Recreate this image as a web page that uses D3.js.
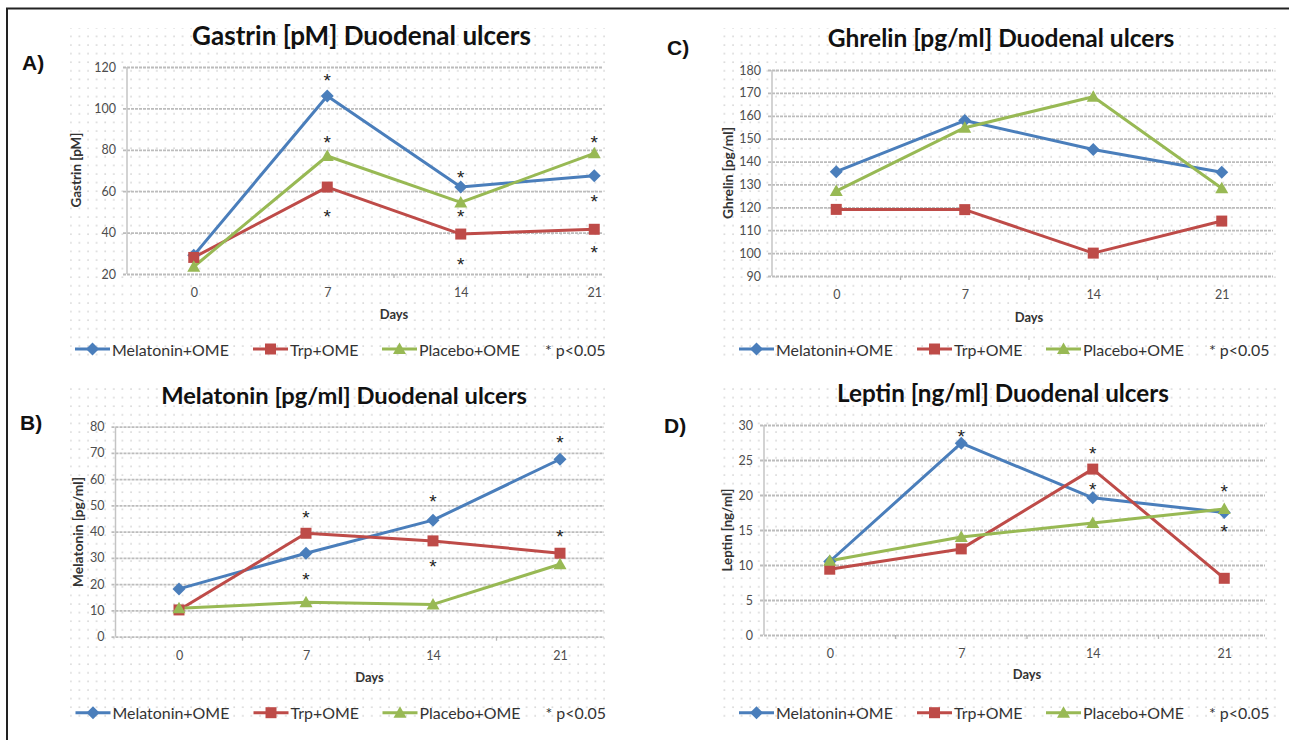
<!DOCTYPE html>
<html>
<head>
<meta charset="utf-8">
<script src="https://cdn.jsdelivr.net/npm/d3@7"></script>
<style>
  body { margin: 0; background: #fff; }
  svg { font-family: Lato, "Open Sans", sans-serif; }
</style>
</head>
<body>
<script>
// data
const days = ["0", "7", "14", "21"];
const seriesNames = ["Melatonin+OME", "Trp+OME", "Placebo+OME"];

const gastrinMel = [29, 106, 62, 67.5];
const gastrinTrp = [28, 62, 39.3, 41.6];
const gastrinPla = [23.5, 77, 54.6, 78.3];
const gastrinTicks = [20, 40, 60, 80, 100, 120];
const gastrinStars = [[1, 115.7], [1, 85.7], [1, 50], [2, 68.8], [2, 50], [2, 26.8], [3, 85.7], [3, 57.2], [3, 32.6]];

const ghrelinMel = [135.6, 157.9, 145.3, 135.3];
const ghrelinTrp = [119.1, 119, 100, 114];
const ghrelinPla = [127.1, 154.8, 168.3, 128.3];
const ghrelinTicks = [90, 100, 110, 120, 130, 140, 150, 160, 170, 180];
const ghrelinStars = [];

const melatoninMel = [18.2, 31.8, 44.4, 67.6];
const melatoninTrp = [10.2, 39.4, 36.5, 31.8];
const melatoninPla = [10.8, 13.1, 12.3, 27.6];
const melatoninTicks = [0, 10, 20, 30, 40, 50, 60, 70, 80];
const melatoninStars = [[1, 47], [1, 23.5], [2, 53.1], [2, 28.6], [3, 75.6], [3, 39.8]];

const leptinMel = [10.5, 27.4, 19.6, 17.5];
const leptinTrp = [9.4, 12.3, 23.7, 8.1];
const leptinPla = [10.6, 14, 16, 18];
const leptinTicks = [0, 5, 10, 15, 20, 25, 30];
const leptinStars = [[1, 29], [2, 26.6], [2, 21.4], [3, 21.2], [3, 15.4]];

const colors = ["#4a7ebb", "#be4b48", "#98b954"];
const markerPaths = [
  "M0,-6.5L6.5,0L0,6.5L-6.5,0Z",
  "M-5.5,-5.5h11v11h-11z",
  "M0,-6.5L6.5,5H-6.5Z"
];

const svg = d3.select("body").append("svg")
  .attr("width", 1289)
  .attr("height", 740);

// dotted chart-area background
const pat = svg.append("defs").append("pattern")
  .attr("id", "dots")
  .attr("patternUnits", "userSpaceOnUse")
  .attr("width", 8.6)
  .attr("height", 8.6);
pat.append("circle").attr("cx", 2).attr("cy", 2).attr("r", 0.85).attr("fill", "#cccccc");

// outer frame (top and left only)
svg.append("line").attr("x1", 6).attr("x2", 1289).attr("y1", 8.5).attr("y2", 8.5)
  .attr("stroke", "#222").attr("stroke-width", 2);
svg.append("line").attr("x1", 7).attr("x2", 7).attr("y1", 8).attr("y2", 740)
  .attr("stroke", "#222").attr("stroke-width", 2);

// size a text so that its width matches the picture
function fitWidth(sel, target) {
  let fs = parseFloat(sel.attr("font-size"));
  let w = sel.node().getComputedTextLength();
  if (w > 0) sel.attr("font-size", fs * target / w);
  return sel;
}

const panels = [
  {
    title: "Gastrin [pM] Duodenal ulcers", titleX: 361.5, titleY: 35, titleW: 339,
    letter: "A)", letterX: 22, letterY: 62,
    yTitle: "Gastrin [pM]", yTitleX: 75.5, yTitleY: 170, yTitleW: 75,
    bg: [70, 28, 540, 332],
    axisX: 127, axisEnd: 661, gridEnd: 603, yTop: 67, yBot: 274,
    ticks: gastrinTicks, series: [gastrinMel, gastrinTrp, gastrinPla], stars: gastrinStars,
    daysY: 314, legendX: 75, legendY: 349
  },
  {
    title: "Ghrelin [pg/ml] Duodenal ulcers", titleX: 1001, titleY: 37, titleW: 347,
    letter: "C)", letterX: 667, letterY: 47,
    yTitle: "Ghrelin [pg/ml]", yTitleX: 727, yTitleY: 173, yTitleW: 92,
    bg: [718, 28, 558, 332],
    axisX: 772, axisEnd: 1286, gridEnd: 1273, yTop: 70, yBot: 276,
    ticks: ghrelinTicks, series: [ghrelinMel, ghrelinTrp, ghrelinPla], stars: ghrelinStars,
    daysY: 317, legendX: 739, legendY: 349
  },
  {
    title: "Melatonin [pg/ml] Duodenal ulcers", titleX: 344, titleY: 395, titleW: 366,
    letter: "B)", letterX: 20, letterY: 422,
    yTitle: "Melatonin [pg/ml]", yTitleX: 77.5, yTitleY: 532, yTitleW: 110,
    bg: [70, 383, 540, 339],
    axisX: 115.5, axisEnd: 623.5, gridEnd: 604, yTop: 426.7, yBot: 636.7,
    ticks: melatoninTicks, series: [melatoninMel, melatoninTrp, melatoninPla], stars: melatoninStars,
    daysY: 677, legendX: 75.5, legendY: 712.7
  },
  {
    title: "Leptin [ng/ml] Duodenal ulcers", titleX: 1003, titleY: 392.7, titleW: 332,
    letter: "D)", letterX: 664, letterY: 425,
    yTitle: "Leptin [ng/ml]", yTitleX: 727, yTitleY: 530, yTitleW: 83,
    bg: [718, 382, 558, 340],
    axisX: 764, axisEnd: 1290, gridEnd: 1265, yTop: 425, yBot: 635,
    ticks: leptinTicks, series: [leptinMel, leptinTrp, leptinPla], stars: leptinStars,
    daysY: 674, legendX: 739, legendY: 712.7
  }
];

panels.forEach(drawPanel);

function drawPanel(p) {
  const g = svg.append("g");

  g.append("rect")
    .attr("x", p.bg[0]).attr("y", p.bg[1])
    .attr("width", p.bg[2]).attr("height", p.bg[3])
    .attr("fill", "url(#dots)");

  const x = d3.scalePoint().domain(days).range([p.axisX, p.axisEnd]).padding(0.5);
  const y = d3.scaleLinear()
    .domain([p.ticks[0], p.ticks[p.ticks.length - 1]])
    .range([p.yBot, p.yTop]);

  // y axis with gridlines
  const yAxis = d3.axisLeft(y)
    .tickValues(p.ticks)
    .tickSize(-(p.gridEnd - p.axisX))
    .tickPadding(11);
  const ga = g.append("g")
    .attr("transform", "translate(" + p.axisX + ",0)")
    .call(yAxis);
  ga.select(".domain").remove();
  ga.selectAll(".tick line")
    .attr("x1", -4)
    .attr("stroke", "#bcbcbc")
    .attr("stroke-width", 1.8)
    .attr("stroke-dasharray", "3,1");
  ga.selectAll(".tick text")
    .style("font-family", "Lato, sans-serif")
    .attr("font-size", 12.5)
    .attr("fill", "#4d4d4d");

  g.append("line")
    .attr("x1", p.axisX).attr("x2", p.axisX)
    .attr("y1", p.yTop).attr("y2", p.yBot)
    .attr("stroke", "#c4c4c4").attr("stroke-width", 1.5);

  // x axis labels
  const xa = g.append("g")
    .attr("transform", "translate(0," + p.yBot + ")")
    .call(d3.axisBottom(x).tickSize(0).tickPadding(14));
  xa.select(".domain").remove();
  xa.selectAll(".tick text")
    .style("font-family", "Lato, sans-serif")
    .attr("font-size", 12.5)
    .attr("fill", "#4d4d4d");

  // small tick marks between categories
  const step = x.step();
  g.selectAll(".btick")
    .data(d3.range(1, days.length))
    .enter().append("line")
    .attr("class", "btick")
    .attr("x1", (i) => p.axisX + step * i)
    .attr("x2", (i) => p.axisX + step * i)
    .attr("y1", p.yBot).attr("y2", p.yBot + 4)
    .attr("stroke", "#b5b5b5").attr("stroke-width", 1.3);

  // series lines and markers
  const line = d3.line()
    .x((d, i) => x(days[i]))
    .y((d) => y(d));

  p.series.forEach((vals, si) => {
    g.append("path")
      .datum(vals)
      .attr("fill", "none")
      .attr("stroke", colors[si])
      .attr("stroke-width", 3)
      .attr("stroke-linejoin", "round")
      .attr("d", line);
  });
  p.series.forEach((vals, si) => {
    g.selectAll(".m" + si)
      .data(vals)
      .enter().append("path")
      .attr("class", "m" + si)
      .attr("d", markerPaths[si])
      .attr("transform", (d, i) => "translate(" + x(days[i]) + "," + y(d) + ")")
      .attr("fill", colors[si]);
  });

  // significance asterisks
  g.selectAll(".star")
    .data(p.stars)
    .enter().append("text")
    .attr("class", "star")
    .attr("x", (d) => x(days[d[0]]))
    .attr("y", (d) => y(d[1]) + 11)
    .attr("text-anchor", "middle")
    .style("font-family", "'Liberation Sans', Arial, sans-serif")
    .attr("font-size", 19)
    .attr("fill", "#222")
    .text("*");

  // titles
  const t = g.append("text")
    .attr("x", p.titleX).attr("y", p.titleY)
    .attr("text-anchor", "middle")
    .attr("dominant-baseline", "central")
    .attr("font-weight", "bold")
    .attr("font-size", 21)
    .attr("fill", "#111")
    .text(p.title);
  fitWidth(t, p.titleW);

  g.append("text")
    .attr("x", p.letterX).attr("y", p.letterY)
    .attr("dominant-baseline", "central")
    .style("font-family", "'Liberation Sans', Arial, sans-serif")
    .attr("font-weight", "bold")
    .attr("font-size", 21)
    .attr("fill", "#111")
    .text(p.letter);

  const yt = g.append("text")
    .attr("transform", "translate(" + p.yTitleX + "," + p.yTitleY + ")rotate(-90)")
    .attr("text-anchor", "middle")
    .attr("dominant-baseline", "central")
    .attr("font-weight", "bold")
    .attr("font-size", 11)
    .attr("fill", "#333")
    .text(p.yTitle);
  fitWidth(yt, p.yTitleW);

  const dt = g.append("text")
    .attr("x", (p.axisX + p.axisEnd) / 2).attr("y", p.daysY)
    .attr("text-anchor", "middle")
    .attr("dominant-baseline", "central")
    .attr("font-weight", "bold")
    .attr("font-size", 11)
    .attr("fill", "#333")
    .text("Days");
  fitWidth(dt, 28.5);

  // legend
  const offsets = [0, 178, 307];
  let legendSize = 15;
  seriesNames.forEach((name, si) => {
    const lx = p.legendX + offsets[si];
    g.append("line")
      .attr("x1", lx).attr("x2", lx + 35)
      .attr("y1", p.legendY).attr("y2", p.legendY)
      .attr("stroke", colors[si]).attr("stroke-width", 3);
    g.append("path")
      .attr("d", markerPaths[si])
      .attr("transform", "translate(" + (lx + 17.5) + "," + p.legendY + ")")
      .attr("fill", colors[si]);
    const lt = g.append("text")
      .attr("x", lx + 37).attr("y", p.legendY)
      .attr("dominant-baseline", "central")
      .attr("font-size", legendSize)
      .attr("fill", "#333")
      .text(name);
    if (si === 0) {
      fitWidth(lt, 117);
      legendSize = parseFloat(lt.attr("font-size"));
    }
  });
  g.append("text")
    .attr("x", p.legendX + 470).attr("y", p.legendY)
    .attr("dominant-baseline", "central")
    .attr("font-size", legendSize)
    .attr("fill", "#333")
    .text("* p<0.05");
}
</script>
</body>
</html>
